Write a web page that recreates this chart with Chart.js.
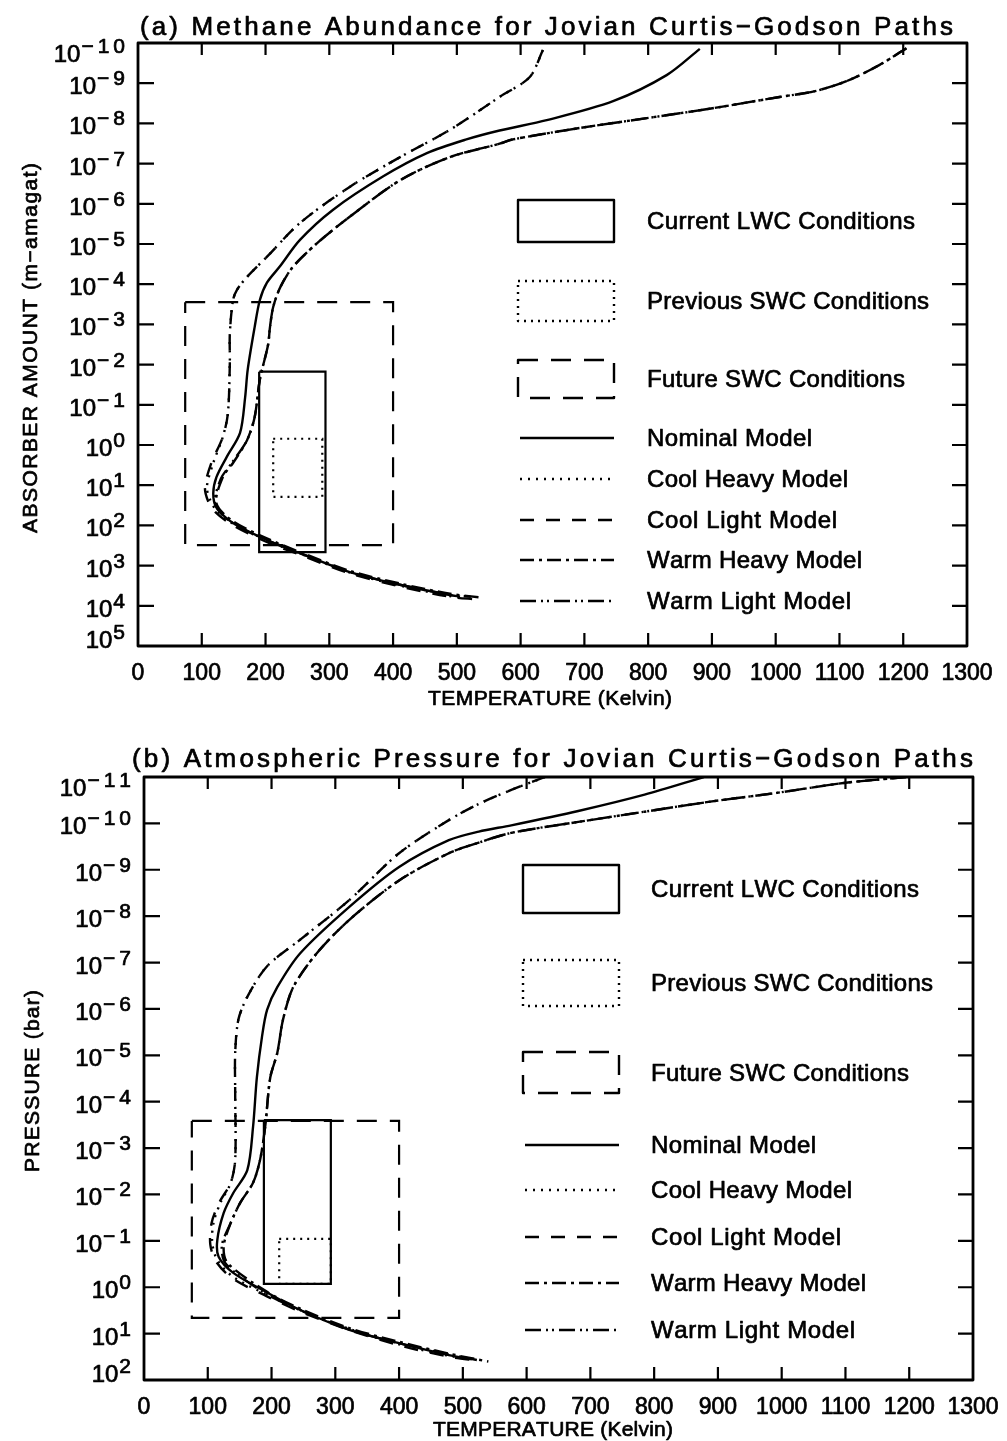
<!DOCTYPE html>
<html>
<head>
<meta charset="utf-8">
<script src="https://cdn.jsdelivr.net/npm/chart.js@4.4.1/dist/chart.umd.min.js"></script>
<style>
  html, body { margin: 0; padding: 0; background: #fff; }
  canvas { display: block; }
</style>
</head>
<body>
<canvas id="chartA" width="1007" height="720"></canvas>
<canvas id="chartB" width="1007" height="721"></canvas>
<script>
// temperature axis (Kelvin)
const tempTicks = [0, 100, 200, 300, 400, 500, 600, 700, 800, 900, 1000, 1100, 1200, 1300];
// decade exponents shown on the y axes
const absorberTickExp = [-10, -9, -8, -7, -6, -5, -4, -3, -2, -1, 0, 1, 2, 3, 4, 5];
const pressureTickExp = [-11, -10, -9, -8, -7, -6, -5, -4, -3, -2, -1, 0, 1, 2];

const modelNames = ['Nominal Model', 'Cool Heavy Model', 'Cool Light Model', 'Warm Heavy Model', 'Warm Light Model'];
const boxNames = ['Current LWC Conditions', 'Previous SWC Conditions', 'Future SWC Conditions'];

// (a) methane absorber amount (m-amagat) vs temperature
const nominalTempA = [881, 829, 745, 641, 567, 515, 453, 384, 306, 254, 222, 202, 191, 183, 172, 168, 160, 139, 123, 118, 123, 149, 202, 254, 332, 411, 489, 505];
const nominalAmountA = [1.4e-10, 6.3e-10, 2.8e-9, 8.3e-9, 1.5e-8, 2.5e-8, 5.5e-8, 2.1e-7, 1.4e-6, 7.9e-6, 3.7e-5, 9.3e-5, 2.5e-4, 1.15e-3, 1.35e-2, 6.5e-2, 0.5, 2.0, 6.3, 16, 35, 87, 230, 490, 1450, 3000, 5400, 5900];
const coolHeavyTempA = [635, 614, 567, 489, 411, 332, 254, 202, 171, 155, 149, 144, 144, 141, 133, 118, 108, 113, 123, 149, 202, 254, 332, 411, 489, 512];
const coolHeavyAmountA = [1.5e-10, 7.1e-10, 2.2e-9, 1.45e-8, 6.9e-8, 3.8e-7, 3.0e-6, 2.1e-5, 6.6e-5, 1.4e-4, 2.5e-4, 1.7e-3, 9.1e-3, 0.16, 0.63, 2.8, 11, 23, 42, 91, 240, 500, 1480, 3160, 5750, 6300];
const coolLightTempA = [635, 614, 567, 489, 411, 332, 254, 202, 171, 155, 149, 144, 144, 141, 133, 115, 105, 110, 121, 148, 201, 253, 331, 411, 490, 530];
const coolLightAmountA = [1.5e-10, 7.1e-10, 2.2e-9, 1.45e-8, 6.9e-8, 3.8e-7, 3.0e-6, 2.1e-5, 6.6e-5, 1.4e-4, 2.5e-4, 1.7e-3, 9.1e-3, 0.16, 0.63, 2.8, 11, 25, 46, 98, 255, 530, 1550, 3300, 6000, 6900];
const warmHeavyTempA = [1205, 1163, 1111, 1060, 1006, 901, 798, 693, 588, 567, 489, 411, 332, 281, 243, 223, 212, 207, 204, 191, 183, 171, 149, 133, 123, 149, 202, 254, 332, 411, 489, 541];
const warmHeavyAmountA = [1.35e-10, 3.5e-10, 8.9e-10, 1.6e-9, 2.2e-9, 4.2e-9, 7.4e-9, 1.3e-8, 2.5e-8, 3.2e-8, 6.9e-8, 2.6e-7, 2.1e-6, 9.5e-6, 3.7e-5, 1.2e-4, 3.7e-4, 1.15e-3, 3.2e-3, 2.4e-2, 0.2, 0.76, 2.8, 6.3, 28, 79, 210, 460, 1350, 2800, 5000, 6300];
const warmLightTempA = [1205, 1163, 1111, 1060, 1006, 901, 798, 693, 588, 567, 489, 411, 332, 281, 243, 223, 212, 207, 204, 191, 183, 171, 147, 130, 121, 147, 200, 252, 330, 409, 488, 522];
const warmLightAmountA = [1.35e-10, 3.5e-10, 8.9e-10, 1.6e-9, 2.2e-9, 4.2e-9, 7.4e-9, 1.3e-8, 2.5e-8, 3.2e-8, 6.9e-8, 2.6e-7, 2.1e-6, 9.5e-6, 3.7e-5, 1.2e-4, 3.7e-4, 1.15e-3, 3.2e-3, 2.4e-2, 0.2, 0.76, 2.8, 6.9, 30, 85, 225, 480, 1400, 2950, 5300, 6000];

// (a) condition boxes: [Tmin, Tmax] and [amount top, amount bottom]
const currentLwcTempA = [190, 294], currentLwcAmountA = [1.5e-2, 460];
const previousSwcTempA = [212, 289], previousSwcAmountA = [0.7, 19.5];
const futureSwcTempA = [74, 400], futureSwcAmountA = [2.8e-4, 310];

// (b) atmospheric pressure (bar) vs temperature
const nominalTempB = [878, 785, 681, 576, 525, 478, 400, 322, 245, 209, 193, 185, 177, 171, 162, 140, 125, 115, 117, 140, 193, 245, 322, 400, 478, 514];
const nominalPressB = [1.0e-11, 2.4e-11, 5.4e-11, 1.1e-10, 1.5e-10, 2.3e-10, 8.7e-10, 6.3e-9, 6.3e-8, 3.4e-7, 1.05e-6, 4.0e-6, 3.0e-5, 3.5e-4, 3.0e-3, 9.3e-3, 2.5e-2, 9.5e-2, 0.22, 0.49, 1.3, 3.1, 8.3, 16, 29, 36];
const coolHeavyTempB = [629, 576, 525, 478, 400, 322, 245, 193, 162, 148, 143, 143, 143, 136, 120, 109, 107, 115, 140, 193, 245, 322, 400, 478, 505];
const coolHeavyPressB = [1.0e-11, 1.9e-11, 3.8e-11, 8.5e-11, 4.4e-10, 4.5e-9, 3.2e-8, 1.2e-7, 5.5e-7, 1.7e-6, 8.9e-6, 6.5e-5, 1.8e-3, 5.6e-3, 1.5e-2, 4.1e-2, 0.11, 0.26, 0.6, 1.45, 3.1, 7.9, 17, 30, 34];
const coolLightTempB = [629, 576, 525, 478, 400, 322, 245, 193, 162, 148, 143, 143, 143, 136, 118, 106, 104, 113, 139, 192, 244, 322, 401, 481, 522];
const coolLightPressB = [1.0e-11, 1.9e-11, 3.8e-11, 8.5e-11, 4.4e-10, 4.5e-9, 3.2e-8, 1.2e-7, 5.5e-7, 1.7e-6, 8.9e-6, 6.5e-5, 1.8e-3, 5.6e-3, 1.5e-2, 4.1e-2, 0.12, 0.28, 0.65, 1.55, 3.3, 8.4, 18, 32, 38];
const warmHeavyTempB = [1195, 1097, 992, 888, 785, 681, 576, 525, 478, 400, 322, 271, 234, 218, 209, 198, 190, 182, 171, 151, 136, 125, 131, 193, 245, 322, 400, 478, 540];
const warmHeavyPressB = [1.0e-11, 1.35e-11, 2.2e-11, 3.4e-11, 5.6e-11, 9.3e-11, 1.6e-10, 2.6e-10, 4.4e-10, 1.7e-9, 1.2e-8, 6.3e-8, 3.4e-7, 1.7e-6, 8.9e-6, 3.0e-5, 3.5e-4, 1.8e-3, 5.6e-3, 1.5e-2, 4.1e-2, 0.13, 0.3, 1.26, 2.9, 7.6, 15, 27, 40];
const warmLightTempB = [1195, 1097, 992, 888, 785, 681, 576, 525, 478, 400, 322, 271, 234, 218, 209, 198, 190, 182, 171, 151, 136, 122, 129, 190, 242, 320, 399, 478, 522];
const warmLightPressB = [1.0e-11, 1.35e-11, 2.2e-11, 3.4e-11, 5.6e-11, 9.3e-11, 1.6e-10, 2.6e-10, 4.4e-10, 1.7e-9, 1.2e-8, 6.3e-8, 3.4e-7, 1.7e-6, 8.9e-6, 3.0e-5, 3.5e-4, 1.8e-3, 5.6e-3, 1.5e-2, 4.1e-2, 0.13, 0.32, 1.35, 3.0, 8.0, 16, 28, 37];

// (b) condition boxes
const currentLwcTempB = [188, 293], currentLwcPressB = [2.5e-4, 0.85];
const previousSwcTempB = [212, 293], previousSwcPressB = [9.1e-2, 0.85];
const futureSwcTempB = [75, 400], futureSwcPressB = [2.6e-4, 4.6];

// line styles
const modelDash = [[], [2, 6], [14, 12], [14, 5, 3, 5], [16, 5, 2, 4, 2, 5]];
const boxDash = [[], [2, 5], [20, 13]];
const legendTextW = [268, 282, 258, 165, 201, 190, 215, 204];
const FONT = '"Liberation Sans", Arial, sans-serif';

const pts = (xs, ys) => xs.map((x, i) => ({ x, y: ys[i] }));
const rect = (xr, yr) => [
  { x: xr[0], y: yr[0] }, { x: xr[1], y: yr[0] }, { x: xr[1], y: yr[1] },
  { x: xr[0], y: yr[1] }, { x: xr[0], y: yr[0] }
];

// filled + lightly stroked text, to get the heavier plotter look
function ink(ctx, text, x, y) {
  ctx.fillText(text, x, y);
  ctx.strokeText(text, x, y);
}
function drawSpaced(ctx, text, x, y, gap) {
  ctx.textAlign = 'left';
  let cx = x;
  for (const ch of text) {
    ink(ctx, ch, cx, y);
    cx += ctx.measureText(ch).width + gap;
  }
}
function spacedWidth(ctx, text, gap) {
  let w = 0;
  for (const ch of text) w += ctx.measureText(ch).width;
  return w + gap * ([...text].length - 1);
}
function fitText(ctx, text, x, y, width) {
  const n = [...text].length;
  const gap = (width - spacedWidth(ctx, text, 0)) / (n - 1);
  drawSpaced(ctx, text, x, y, gap);
}

function decor(p) {
  return {
    id: 'decor',
    afterDraw(chart) {
      const { ctx, chartArea: a, scales: { x, y } } = chart;
      ctx.save();
      ctx.fillStyle = '#000';
      ctx.strokeStyle = '#000';
      ctx.textBaseline = 'alphabetic';
      ctx.lineJoin = 'round';
      ctx.setLineDash([]);

      // frame + inward ticks
      ctx.lineWidth = 2.8;
      ctx.strokeRect(a.left, a.top, a.right - a.left, a.bottom - a.top);
      ctx.lineWidth = 2.2;
      ctx.beginPath();
      tempTicks.slice(1, -1).forEach(t => {
        const px = x.getPixelForValue(t);
        ctx.moveTo(px, a.bottom); ctx.lineTo(px, a.bottom - 13);
        ctx.moveTo(px, a.top); ctx.lineTo(px, a.top + 12);
      });
      p.tickExp.slice(1, -1).forEach(e => {
        const py = y.getPixelForValue(Math.pow(10, e));
        ctx.moveTo(a.left, py); ctx.lineTo(a.left + 16, py);
        ctx.moveTo(a.right, py); ctx.lineTo(a.right - 15, py);
      });
      ctx.stroke();

      ctx.lineWidth = 0.7;
      // x tick labels
      ctx.font = '23px ' + FONT;
      ctx.textAlign = 'center';
      tempTicks.forEach(t => ink(ctx, String(t), x.getPixelForValue(t), a.bottom + 34));

      // y tick labels 10^n
      const right = a.left - 13;
      p.tickExp.forEach((e, i) => {
        const py = y.getPixelForValue(Math.pow(10, e));
        const shift = i === 0 ? 8 : (i === p.tickExp.length - 1 ? -9 : 0);
        const expText = (e < 0 ? '\u2212' : '') + Math.abs(e);
        ctx.font = '21px ' + FONT;
        const expW = spacedWidth(ctx, expText, 4);
        drawSpaced(ctx, expText, right - expW, py + shift + 2, 4);
        ctx.font = '24px ' + FONT;
        ctx.textAlign = 'right';
        ink(ctx, '10', right - expW - 1, py + shift + 11);
      });

      // titles
      ctx.font = '26px ' + FONT;
      fitText(ctx, p.title, p.titleX, p.titleY, p.titleW);
      ctx.font = '21px ' + FONT;
      fitText(ctx, 'TEMPERATURE (Kelvin)', p.xTitleX, p.xTitleY, p.xTitleW);
      ctx.save();
      ctx.translate(p.yTitleX, p.yTitleY);
      ctx.rotate(-Math.PI / 2);
      fitText(ctx, p.yTitle, -p.yTitleW / 2, 0, p.yTitleW);
      ctx.restore();

      // legend
      const lx0 = a.left + p.legendX[0], lx1 = a.left + p.legendX[1];
      const tx = a.left + p.textX;
      ctx.font = '24px ' + FONT;
      boxNames.forEach((name, i) => {
        const [t, b] = p.boxRows[i];
        ctx.lineWidth = 2.4;
        ctx.setLineDash(boxDash[i]);
        ctx.strokeRect(lx0, a.top + t, lx1 - lx0, b - t);
        ctx.setLineDash([]);
        ctx.lineWidth = 0.7;
        fitText(ctx, name, tx, a.top + (t + b) / 2 + 8, legendTextW[i]);
      });
      modelNames.forEach((name, i) => {
        const ly = a.top + p.lineRows[i];
        ctx.lineWidth = 2.4;
        ctx.setLineDash(modelDash[i]);
        ctx.beginPath();
        ctx.moveTo(lx0 + 2, ly);
        ctx.lineTo(lx1, ly);
        ctx.stroke();
        ctx.setLineDash([]);
        ctx.lineWidth = 0.7;
        fitText(ctx, name, tx, ly + 8, legendTextW[i + 3]);
      });
      ctx.restore();
    }
  };
}

function drawPanel(id, p) {
  const boxSets = p.boxes.map((b, i) => ({
    label: boxNames[i], data: rect(b[0], b[1]), borderDash: boxDash[i], tension: 0, borderWidth: 2.2
  }));
  const modelSets = p.models.map((m, i) => ({
    label: modelNames[i], data: pts(m[0], m[1]), borderDash: modelDash[i], tension: 0.3, borderWidth: 2.4
  }));
  const datasets = boxSets.concat(modelSets).map(d => Object.assign(d, {
    showLine: true, pointRadius: 0, borderColor: '#000', fill: false
  }));

  new Chart(document.getElementById(id), {
    type: 'scatter',
    data: { datasets },
    options: {
      responsive: false,
      animation: false,
      layout: { padding: p.padding },
      plugins: { legend: { display: false }, tooltip: { enabled: false } },
      scales: {
        x: { type: 'linear', min: 0, max: 1300, display: false },
        y: { type: 'logarithmic', min: p.yMin, max: p.yMax, reverse: true, display: false }
      }
    },
    plugins: [decor(p)]
  });
}

drawPanel('chartA', {
  padding: { left: 138, right: 40, top: 43, bottom: 74 },
  yMin: 1e-10, yMax: 1e5,
  tickExp: absorberTickExp,
  models: [
    [nominalTempA, nominalAmountA], [coolHeavyTempA, coolHeavyAmountA], [coolLightTempA, coolLightAmountA],
    [warmHeavyTempA, warmHeavyAmountA], [warmLightTempA, warmLightAmountA]
  ],
  boxes: [
    [currentLwcTempA, currentLwcAmountA], [previousSwcTempA, previousSwcAmountA], [futureSwcTempA, futureSwcAmountA]
  ],
  title: '(a) Methane Abundance for Jovian Curtis\u2212Godson Paths',
  titleX: 140, titleY: 35, titleW: 813,
  xTitleX: 428, xTitleY: 705, xTitleW: 244,
  yTitle: 'ABSORBER AMOUNT (m\u2212amagat)', yTitleX: 37, yTitleY: 348, yTitleW: 370,
  legendX: [380, 476], textX: 509,
  boxRows: [[157, 199], [238, 278], [317, 355]],
  lineRows: [395, 436, 477, 517, 558]
});

drawPanel('chartB', {
  padding: { left: 144, right: 34, top: 57, bottom: 61 },
  yMin: 1e-11, yMax: 1e2,
  tickExp: pressureTickExp,
  models: [
    [nominalTempB, nominalPressB], [coolHeavyTempB, coolHeavyPressB], [coolLightTempB, coolLightPressB],
    [warmHeavyTempB, warmHeavyPressB], [warmLightTempB, warmLightPressB]
  ],
  boxes: [
    [currentLwcTempB, currentLwcPressB], [previousSwcTempB, previousSwcPressB], [futureSwcTempB, futureSwcPressB]
  ],
  title: '(b) Atmospheric Pressure for Jovian Curtis\u2212Godson Paths',
  titleX: 132, titleY: 47, titleW: 841,
  xTitleX: 433, xTitleY: 716, xTitleW: 240,
  yTitle: 'PRESSURE (bar)', yTitleX: 39, yTitleY: 361, yTitleW: 182,
  legendX: [379, 475], textX: 507,
  boxRows: [[88, 136], [183, 229], [275, 316]],
  lineRows: [368, 413, 460, 506, 553]
});
</script>
</body>
</html>
